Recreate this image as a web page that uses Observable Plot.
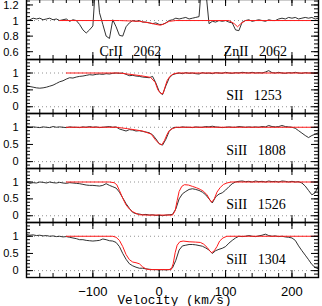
<!DOCTYPE html>
<html><head><meta charset="utf-8">
<script src="https://cdn.jsdelivr.net/npm/d3@7"></script>
<script src="https://cdn.jsdelivr.net/npm/@observablehq/plot@0.6"></script>
<style>
html,body{margin:0;padding:0;background:#fff;}
#chart{position:relative;width:322px;height:306px;overflow:hidden;background:#fff;}
#chart svg{position:absolute;left:0;overflow:visible;background:transparent;}
#chart text{white-space:pre;}
</style></head><body><div id="chart"></div>
<script>
// velocity grid (km/s) of the observed spectra
const vel = [-200,-195,-190,-185,-180,-175,-170,-165,-160,-155,
  -150,-145,-140,-135,-130,-125,-120,-115,-110,-105,
  -100,-95,-90,-85,-80,-75,-70,-65,-60,-55,
  -50,-45,-40,-35,-30,-25,-20,-15,-10,-5,
  0,5,10,15,20,25,30,35,40,45,
  50,55,60,65,70,75,80,85,90,95,
  100,105,110,115,120,125,130,135,140,145,
  150,155,160,165,170,175,180,185,190,195,
  200,205,210,215,220,225,230,235,240];

// observed normalised flux
const fluxCrZn = [1.00,1.01,1.03,1.02,1.03,1.01,1.02,1.03,1.01,1.02,
  1.00,1.01,1.02,0.99,1.01,1.00,0.95,0.88,0.84,0.88,
  0.93,1.60,1.10,0.95,0.80,0.77,1.01,0.92,0.81,0.80,
  0.92,0.97,1.00,0.99,1.00,0.98,0.98,0.97,0.96,0.97,
  0.95,0.95,0.97,1.00,1.01,1.03,1.02,1.03,1.04,1.02,
  1.03,1.04,1.05,1.60,1.40,0.96,0.99,0.98,1.00,0.99,
  1.00,0.98,0.97,0.88,0.87,0.98,1.00,1.01,0.99,1.00,
  1.01,1.00,0.99,1.01,1.00,1.00,1.02,1.03,1.02,1.04,
  1.03,1.04,1.02,1.03,1.04,1.03,1.04,1.02,1.03];
const fluxS1253 = [0.62,0.60,0.58,0.56,0.55,0.56,0.58,0.61,0.64,0.69,
  0.74,0.77,0.82,0.86,0.85,0.88,0.90,0.91,0.93,0.95,
  0.94,0.96,0.97,0.96,0.98,0.97,0.99,1.00,0.99,1.00,
  0.96,0.92,0.93,0.91,0.90,0.88,0.87,0.86,0.90,0.70,
  0.45,0.36,0.62,0.85,0.95,0.98,1.00,0.98,1.01,0.99,
  1.00,0.98,0.97,1.01,0.99,1.00,0.98,1.01,1.00,0.99,
  1.02,1.00,0.99,1.01,1.00,1.02,1.01,1.00,1.02,1.00,
  1.01,1.00,1.03,1.07,1.01,1.00,1.02,1.00,0.99,1.01,
  1.00,1.02,1.00,0.99,1.01,1.00,1.00,0.99,1.01];
const fluxSi1808 = [1.03,1.00,1.01,1.00,0.99,1.01,1.00,0.99,1.02,1.00,
  1.01,1.00,0.99,1.01,1.00,1.00,0.99,1.01,1.00,1.02,
  1.00,1.01,0.99,1.00,1.01,1.02,1.00,1.01,0.95,0.92,
  0.89,0.93,0.92,0.89,0.90,0.88,0.86,0.84,0.78,0.66,
  0.52,0.48,0.65,0.88,0.98,1.00,0.99,1.01,1.00,1.00,
  0.99,1.01,1.00,1.00,1.02,1.01,1.03,1.01,1.00,0.99,
  1.00,1.01,1.00,1.00,1.02,1.01,1.00,1.01,1.00,1.01,
  1.00,1.02,1.01,1.05,1.02,1.01,1.02,1.05,1.02,1.01,
  1.00,0.97,0.90,0.83,0.76,0.70,0.76,0.80,0.84];
const fluxSi1526 = [1.00,0.96,0.98,0.97,1.00,0.99,0.97,1.00,0.98,0.97,
  0.99,0.97,0.96,0.98,0.97,0.96,0.95,0.93,0.91,0.90,
  0.90,0.89,0.88,0.90,0.95,0.90,0.86,0.82,0.70,0.53,
  0.36,0.22,0.10,0.06,0.05,0.03,0.04,0.02,0.03,0.01,
  0.02,0.00,0.02,0.03,0.04,0.20,0.50,0.65,0.72,0.78,
  0.80,0.78,0.75,0.70,0.62,0.50,0.38,0.56,0.64,0.68,
  0.76,0.86,0.95,1.00,1.02,1.03,1.01,1.02,1.00,1.03,
  1.01,1.02,1.00,1.03,1.01,1.02,1.00,1.03,1.02,1.00,
  1.02,1.00,1.01,0.97,0.88,0.75,0.62,0.68,0.90];
const fluxSi1304 = [1.05,1.03,1.04,1.02,1.03,1.01,1.02,1.00,1.01,0.99,
  1.00,0.98,0.99,0.97,0.95,0.93,0.90,0.90,0.88,0.87,
  0.86,0.87,0.88,0.92,0.90,0.87,0.86,0.82,0.70,0.50,
  0.33,0.20,0.14,0.10,0.07,0.07,0.05,0.04,0.03,0.03,
  0.02,0.03,0.02,0.03,0.08,0.30,0.60,0.72,0.74,0.76,
  0.76,0.75,0.73,0.71,0.66,0.60,0.50,0.58,0.62,0.65,
  0.70,0.80,0.88,0.95,1.00,0.99,1.00,1.02,1.00,0.99,
  1.01,1.03,1.06,1.02,1.00,1.01,0.99,1.00,0.98,0.97,
  0.95,0.88,0.72,0.58,0.45,0.32,0.18,0.09,0.05];

// model profiles [velocity, flux]
const modelCrZn = [[-150,1.0],[-60,1.0],[-30,0.99],[-15,0.97],[-5,0.95],[2,0.94],[8,0.96],[15,0.99],[25,1.0],[105,1.0],[113,0.96],[118,0.92],[123,0.96],[130,1.0],[240,1.0]];
const modelS1253 = [[-140,1.0],[-60,1.0],[-48,0.97],[-28,0.92],[-13,0.87],[-6,0.72],[-2,0.5],[3,0.38],[6,0.4],[9,0.6],[12,0.78],[16,0.9],[21,0.97],[27,1.0],[240,1.0]];
const modelSi1808 = [[-140,1.0],[-65,1.0],[-48,0.96],[-25,0.89],[-12,0.8],[-6,0.64],[0,0.52],[4,0.49],[8,0.62],[12,0.8],[15,0.9],[20,0.96],[26,1.0],[240,1.0]];
const modelSi1526 = [[-140,1.0],[-75,1.0],[-68,0.98],[-64,0.92],[-60,0.75],[-55,0.52],[-50,0.32],[-45,0.2],[-40,0.12],[-35,0.07],[-30,0.03],[-20,0.02],[20,0.02],[24,0.15],[27,0.45],[30,0.72],[34,0.87],[38,0.92],[44,0.91],[50,0.87],[56,0.83],[62,0.78],[67,0.72],[72,0.62],[76,0.48],[79,0.4],[83,0.5],[87,0.7],[92,0.84],[97,0.93],[102,0.97],[108,1.0],[240,1.0]];
const modelSi1304 = [[-140,1.0],[-70,1.0],[-65,0.97],[-60,0.88],[-55,0.7],[-50,0.47],[-45,0.32],[-40,0.25],[-35,0.23],[-30,0.2],[-25,0.11],[-20,0.05],[-15,0.03],[18,0.03],[21,0.2],[24,0.52],[27,0.74],[31,0.84],[36,0.86],[45,0.84],[55,0.83],[62,0.82],[67,0.77],[72,0.68],[76,0.58],[79,0.52],[83,0.58],[87,0.7],[91,0.86],[96,0.95],[102,1.0],[240,1.0]];

// axis ticks and labels
const xMinorTicks = [-200,-180,-160,-140,-120,-100,-80,-60,-40,-20,0,20,40,60,80,100,120,140,160,180,200,220,240];
const xMajorTicks = [-100,0,100,200];
const xTickLabels = ["\u2212100","0","100","200"];
const yMinorTop = [0.5,0.55,0.6,0.65,0.7,0.75,0.8,0.85,0.9,0.95,1.0,1.05,1.1,1.15,1.2,1.25];
const yMajorTop = [0.6,0.8,1,1.2];
const yMinor = [-0.2,-0.1,0,0.1,0.2,0.3,0.4,0.5,0.6,0.7,0.8,0.9,1.0,1.1,1.2,1.3,1.4];
const yMajor = [0,0.5,1];
const xTitle = "Velocity (km/s)";

const panels = [
  {top:-1, h:60, dom:[0.5,1.27], flux:fluxCrZn, model:modelCrZn, minor:yMinorTop, major:yMajorTop, dotted:[1],
   labels:[{v:-90, f:0.55, t:"CrII   2062"},{v:97, f:0.55, t:"ZnII   2062"}]},
  {top:59, h:54, dom:[-0.2,1.4], flux:fluxS1253, model:modelS1253, minor:yMinor, major:yMajor, dotted:[0,1],
   labels:[{v:101, f:0.21, t:"SII   1253"}]},
  {top:113, h:55, dom:[-0.2,1.4], flux:fluxSi1808, model:modelSi1808, minor:yMinor, major:yMajor, dotted:[0,1],
   labels:[{v:101, f:0.19, t:"SiII   1808"}]},
  {top:168, h:54, dom:[-0.2,1.4], flux:fluxSi1526, model:modelSi1526, minor:yMinor, major:yMajor, dotted:[0,1],
   labels:[{v:101, f:0.21, t:"SiII   1526"}]},
  {top:222, h:55, dom:[-0.2,1.4], flux:fluxSi1304, model:modelSi1304, minor:yMinor, major:yMajor, dotted:[0,1],
   labels:[{v:101, f:0.19, t:"SiII   1304"}], last:true}
];

const W = 322, ML = 26, MR = 4, MT = 10;
const innerW = W - ML - MR;
const chart = document.getElementById("chart");

panels.forEach((p, k) => {
  const MB = p.last ? 30 : 10;
  const spec = vel.map((v, i) => ({v, f: p.flux[i]}));
  const model = p.model.map(([v, f]) => ({v, f}));
  const ih = p.h;
  const tick = "#000";
  const marks = [
    Plot.ruleY(p.dotted, {y: d => d, stroke: "#777", strokeWidth: 0.8, strokeDasharray: "1,3"}),
    Plot.line(spec, {x: "v", y: "f", stroke: "#1a1a1a", strokeWidth: 0.9, clip: true}),
    Plot.line(model, {x: "v", y: "f", stroke: "#ff1a1a", strokeWidth: 1, clip: true}),
    // x ticks bottom & top
    Plot.ruleX(xMinorTicks, {x: d => d, insetTop: ih - 4, stroke: tick}),
    Plot.ruleX(xMinorTicks, {x: d => d, insetBottom: ih - 4, stroke: tick}),
    Plot.ruleX(xMajorTicks, {x: d => d, insetTop: ih - 7, stroke: tick}),
    Plot.ruleX(xMajorTicks, {x: d => d, insetBottom: ih - 7, stroke: tick}),
    // y ticks left & right
    Plot.ruleY(p.minor, {y: d => d, insetRight: innerW - 4, stroke: tick}),
    Plot.ruleY(p.minor, {y: d => d, insetLeft: innerW - 4, stroke: tick}),
    Plot.ruleY(p.major, {y: d => d, insetRight: innerW - 7, stroke: tick}),
    Plot.ruleY(p.major, {y: d => d, insetLeft: innerW - 7, stroke: tick}),
    Plot.frame({stroke: "#000", strokeWidth: 1.4}),
    Plot.text(p.major, {x: -200, y: d => d, text: d => String(d), textAnchor: "end", dx: -8,
      dy: (k === 0 ? 0.8 : 0),
      fontSize: 11, fontFamily: "Liberation Sans, Arial, sans-serif", fill: "#000"}),
    Plot.text(p.labels, {x: "v", y: "f", text: "t", textAnchor: "start", lineAnchor: "bottom",
      fontSize: 14, fontFamily: "Liberation Serif, Times New Roman, serif", fill: "#000"})
  ];
  if (p.last) {
    marks.push(
      Plot.text(xMajorTicks, {x: d => d, text: (d, i) => xTickLabels[i], frameAnchor: "bottom", lineAnchor: "bottom", dy: 18,
        fontSize: 13, fontFamily: "Liberation Sans, Arial, sans-serif", fill: "#000"}),
      Plot.text([xTitle], {text: d => d, frameAnchor: "bottom", lineAnchor: "bottom", dy: 26, dx: 2,
        fontSize: 12.7, fontFamily: "Liberation Mono, DejaVu Sans Mono, monospace", fill: "#000"})
    );
  }
  const svg = Plot.plot({
    width: W, height: ih + MT + MB,
    marginLeft: ML, marginRight: MR, marginTop: MT, marginBottom: MB,
    x: {domain: [-200, 240], axis: null},
    y: {domain: p.dom, axis: null},
    style: {background: "transparent", overflow: "visible"},
    marks
  });
  svg.style.top = (p.top - MT) + "px";
  chart.appendChild(svg);
});
</script></body></html>
